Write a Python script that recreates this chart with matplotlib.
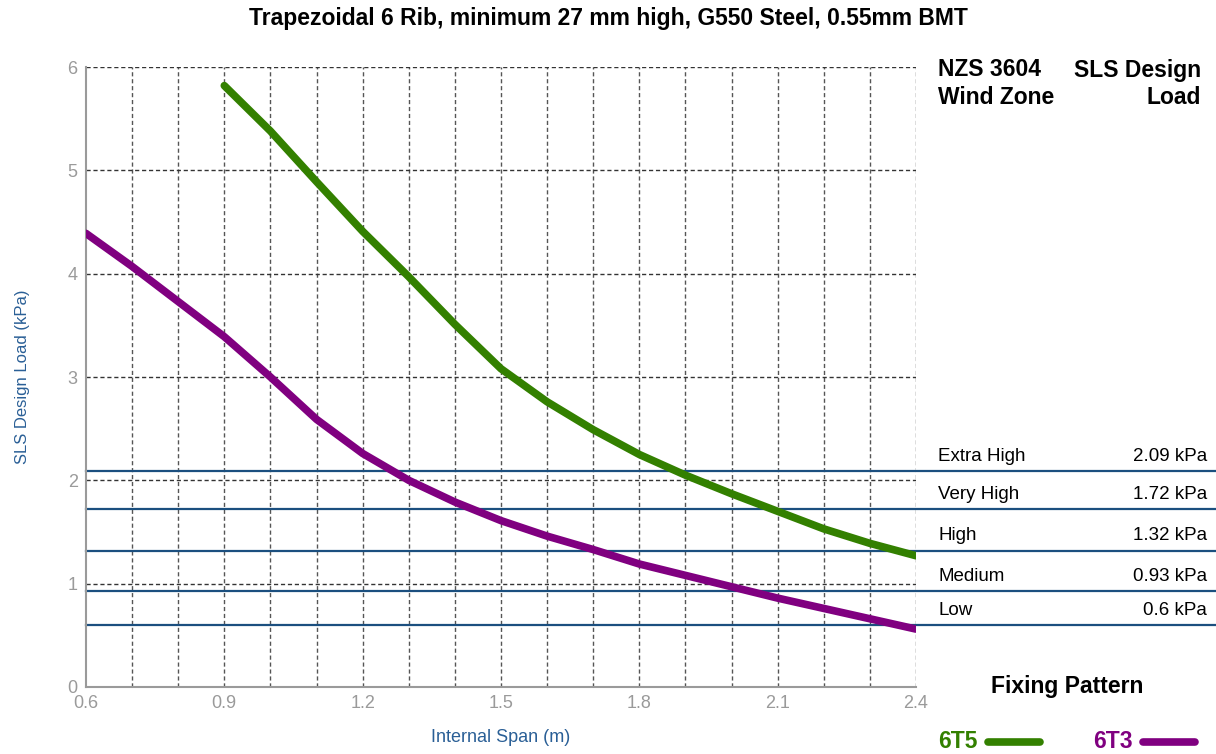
import matplotlib.pyplot as plt
import matplotlib.transforms as mtransforms

plt.rcParams['font.family'] = ['Liberation Sans', 'DejaVu Sans']

# data
span_6t5 = [0.9, 1.0, 1.1, 1.2, 1.3, 1.4, 1.5, 1.6, 1.7, 1.8, 1.9, 2.0, 2.1, 2.2, 2.3, 2.4]
load_6t5 = [5.82, 5.38, 4.89, 4.41, 3.97, 3.51, 3.08, 2.76, 2.49, 2.25, 2.05, 1.87, 1.70, 1.53, 1.39, 1.27]
span_6t3 = [0.6, 0.7, 0.8, 0.9, 1.0, 1.1, 1.2, 1.3, 1.4, 1.5, 1.6, 1.7, 1.8, 1.9, 2.0, 2.1, 2.2, 2.3, 2.4]
load_6t3 = [4.39, 4.07, 3.73, 3.39, 3.00, 2.59, 2.26, 2.00, 1.79, 1.61, 1.46, 1.33, 1.19, 1.08, 0.97, 0.86, 0.76, 0.66, 0.56]

zones = ['Extra High', 'Very High', 'High', 'Medium', 'Low']
zone_loads = [2.09, 1.72, 1.32, 0.93, 0.6]
zone_texts = ['2.09 kPa', '1.72 kPa', '1.32 kPa', '0.93 kPa', '0.6 kPa']

xticks = [0.6, 0.9, 1.2, 1.5, 1.8, 2.1, 2.4]
yticks = [0, 1, 2, 3, 4, 5, 6]

green = '#338000'
purple = '#800080'
navy = '#1b4f7f'
grey = '#9a9a9a'

fig = plt.figure(figsize=(12.16, 7.54), dpi=100)
ax = fig.add_axes([0.0707, 0.0889, 0.6826, 0.8222])

ax.set_xlim(0.6, 2.4)
ax.set_ylim(0, 6)

# grid
for i in range(1, 19):
    ax.axvline(0.6 + i * 0.1, color='#555555', lw=1, ls=(0, (3, 2)), zorder=1)
for y in yticks[1:]:
    ax.axhline(y, color='#333333', lw=1, ls=(0, (3, 2)), zorder=1)

# wind zone lines
bt = mtransforms.blended_transform_factory(ax.transAxes, ax.transData)
for name, val, txt in zip(zones, zone_loads, zone_texts):
    ax.plot([0, 1.37], [val, val], transform=bt, color=navy, lw=1.6, clip_on=False, zorder=2)
    ax.text(1.0265, val + 0.06, name, transform=bt, fontsize=13.5, ha='left', va='bottom')
    ax.text(1.351, val + 0.06, txt, transform=bt, fontsize=13.5, ha='right', va='bottom')

# curves
ax.plot(span_6t5, load_6t5, color=green, lw=5.5, solid_capstyle='round', solid_joinstyle='round', zorder=3)
ax.plot(span_6t3, load_6t3, color=purple, lw=5.5, solid_capstyle='round', solid_joinstyle='round', zorder=3)

ax.set_xticks(xticks)
ax.set_xticklabels([f'{t:.1f}' for t in xticks])
ax.set_yticks(yticks)
ax.tick_params(length=0, colors=grey, labelsize=13, pad=6)
for s in ['top', 'right']:
    ax.spines[s].set_visible(False)
for s in ['left', 'bottom']:
    ax.spines[s].set_color(grey)
    ax.spines[s].set_linewidth(1.5)

ax.set_xlabel('Internal Span (m)', color='#2a5f96', fontsize=13, labelpad=12)
ax.set_ylabel('SLS Design Load (kPa)', color='#2a5f96', fontsize=12, labelpad=27)

fig.text(0.5, 0.976, 'Trapezoidal 6 Rib, minimum 27 mm high, G550 Steel, 0.55mm BMT',
         ha='center', va='center', fontsize=16.5, fontweight='bold')

# right-hand header
fig.text(938 / 1216, 1 - 70 / 754, 'NZS 3604', fontsize=16.5, fontweight='bold', va='center', ha='left')
fig.text(938 / 1216, 1 - 98 / 754, 'Wind Zone', fontsize=16.5, fontweight='bold', va='center', ha='left')
fig.text(1201 / 1216, 1 - 70 / 754, 'SLS Design', fontsize=16.5, fontweight='bold', va='center', ha='right')
fig.text(1201 / 1216, 1 - 98 / 754, 'Load', fontsize=16.5, fontweight='bold', va='center', ha='right')

# fixing pattern legend
fig.text(1067 / 1216, 1 - 686 / 754, 'Fixing Pattern', fontsize=16.5, fontweight='bold', va='center', ha='center')
fig.text(938 / 1216, 1 - 742 / 754, '6T5', fontsize=16.5, fontweight='bold', color=green, va='center', ha='left')
fig.text(1093 / 1216, 1 - 742 / 754, '6T3', fontsize=16.5, fontweight='bold', color=purple, va='center', ha='left')
fig.add_artist(plt.Line2D([988 / 1216, 1040 / 1216], [1 - 742 / 754] * 2, color=green, lw=5.5, solid_capstyle='round'))
fig.add_artist(plt.Line2D([1143 / 1216, 1195 / 1216], [1 - 742 / 754] * 2, color=purple, lw=5.5, solid_capstyle='round'))

fig.savefig('out.png', dpi=100)
